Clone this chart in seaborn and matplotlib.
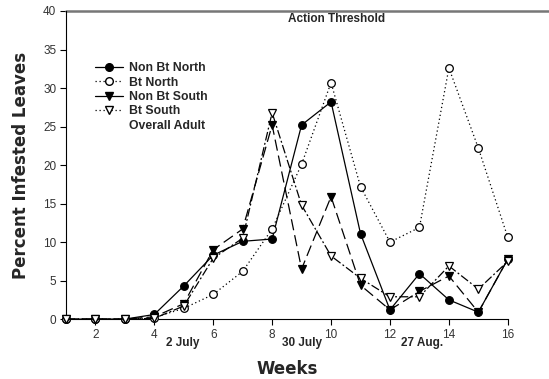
import matplotlib
matplotlib.use("Agg")
import matplotlib.pyplot as plt
import seaborn as sns
import pandas as pd
from matplotlib.lines import Line2D

weeks = list(range(1, 17))
non_bt_north = [0, 0, 0, 0.6, 4.3, 8.3, 10.1, 10.4, 25.2, 28.2, 11.1, 1.2, 5.9, 2.5, 0.9, 7.8]
bt_north = [0, 0, 0, 0.2, 1.4, 3.2, 6.2, 11.7, 20.1, 30.7, 17.2, 10.0, 11.9, 32.6, 22.2, 10.6]
non_bt_south = [0, 0, 0, 0.3, 2.0, 9.0, 11.7, 25.2, 6.5, 15.9, 4.4, 1.2, 3.6, 5.6, 0.9, 7.8]
bt_south = [0, 0, 0, 0.1, 1.7, 7.9, 10.5, 26.8, 14.8, 8.2, 5.3, 2.9, 2.9, 6.9, 3.9, 7.5]

series_names = ["Non Bt North", "Bt North", "Non Bt South", "Bt South"]
x_ticks = [2, 4, 6, 8, 10, 12, 14, 16]
y_ticks = [0, 5, 10, 15, 20, 25, 30, 35, 40]
date_labels = ["2 July", "30 July", "27 Aug."]
date_positions = [4.95, 9.0, 13.1]

sns.set_theme(style="ticks")
plt.rcParams["font.family"] = ["Liberation Sans", "DejaVu Sans"]

fig = plt.figure(figsize=(5.49, 3.79), dpi=100)
ax = fig.add_axes([0.120, 0.158, 0.805, 0.813])

df = pd.DataFrame({"week": weeks, "Non Bt North": non_bt_north, "Bt North": bt_north,
                   "Non Bt South": non_bt_south, "Bt South": bt_south})

styles = {
    "Non Bt North": dict(marker="o", markerfacecolor="black", linestyle="-"),
    "Bt North": dict(marker="o", markerfacecolor="white", linestyle=(0, (1, 2.2))),
    "Non Bt South": dict(marker="v", markerfacecolor="black", linestyle=(0, (9, 4))),
    "Bt South": dict(marker="v", markerfacecolor="white", linestyle=(0, (7, 2, 1.5, 2))),
}

for name in series_names:
    st = styles[name]
    sns.lineplot(data=df, x="week", y=name, ax=ax, color="black", linewidth=0.9,
                 marker=st["marker"], markersize=5.5, markerfacecolor=st["markerfacecolor"],
                 markeredgecolor="black", markeredgewidth=0.9, linestyle=st["linestyle"],
                 clip_on=False, zorder=3)

ax.set_xlim(1, 16)
ax.set_ylim(0, 40)
ax.set_xticks(x_ticks)
ax.set_yticks(y_ticks)
ax.tick_params(axis="both", direction="out", length=4, width=0.8, labelsize=8.5,
               labelcolor="#333333", color="black", pad=3)
for side in ["right", "top"]:
    ax.spines[side].set_visible(False)
for side in ["left", "bottom"]:
    ax.spines[side].set_linewidth(0.8)
    ax.spines[side].set_color("black")

# action threshold line along the top
ax.axhline(40, xmin=0, xmax=1.093, color="#777777", linewidth=1.8, clip_on=False, zorder=2)
ax.text(10.2, 38.9, "Action Threshold", ha="center", va="center", fontsize=8.5, fontweight="bold")

for lab, pos in zip(date_labels, date_positions):
    ax.text(pos, -3.1, lab, ha="center", va="center", fontsize=8.5, fontweight="bold",
            clip_on=False)

label_font = dict(family="DejaVu Sans", fontsize=12, fontweight="bold")
ax.set_xlabel("Weeks", labelpad=14, **label_font)
ax.set_ylabel("Percent Infested Leaves", labelpad=9, **label_font)

handles = []
for name in series_names:
    st = styles[name]
    handles.append(Line2D([], [], color="black", linewidth=0.9, marker=st["marker"],
                          markersize=5.5, markerfacecolor=st["markerfacecolor"],
                          markeredgecolor="black", linestyle="-" if "Non" in name else (0, (1, 2.2))))
handles.append(Line2D([], [], linestyle="none"))
leg = ax.legend(handles, series_names + ["Overall Adult"], loc="upper left",
                bbox_to_anchor=(0.055, 0.85), frameon=False, fontsize=8.8, handlelength=2.3,
                handletextpad=0.5, labelspacing=0.2, borderaxespad=0)
for t in leg.get_texts():
    t.set_fontweight("bold")

fig.savefig("out.png", dpi=100)
